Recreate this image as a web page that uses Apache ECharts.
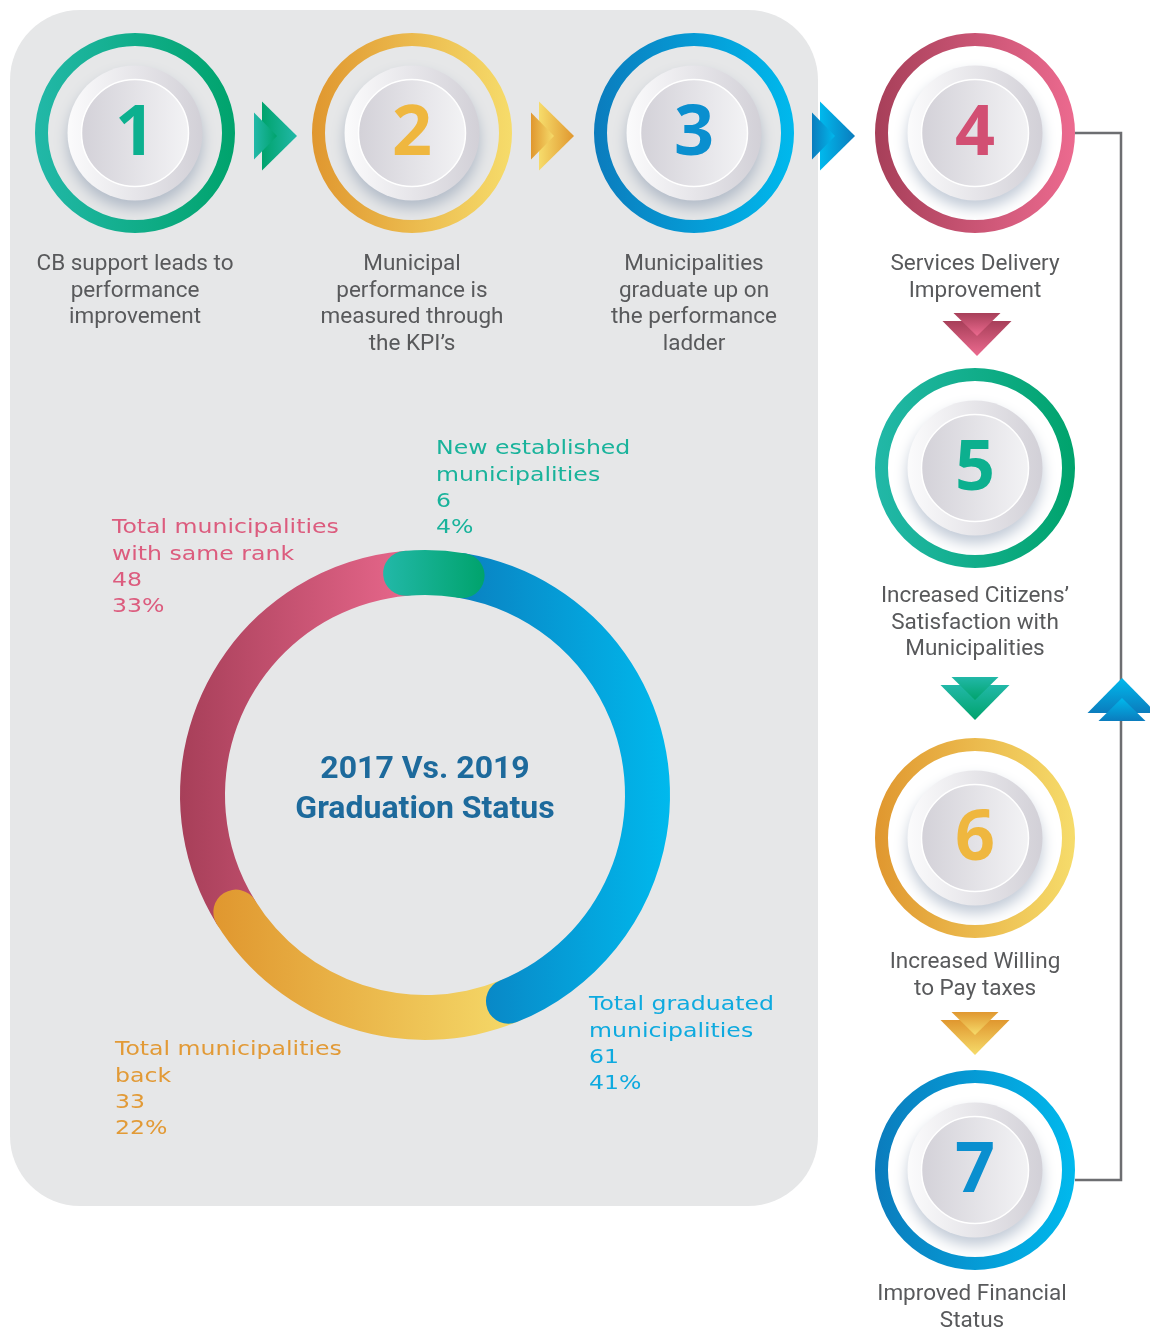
<!DOCTYPE html>
<html><head><meta charset="utf-8">
<script src="https://cdn.jsdelivr.net/npm/echarts@6/dist/echarts.min.js"></script>
<style>html,body{margin:0;padding:0;background:#fff}#c{width:1150px;height:1329px}</style>
</head><body><div id="c"></div>
<script>
// ---- data ----
const categories = ['New established\nmunicipalities', 'Total graduated\nmunicipalities', 'Total municipalities\nback', 'Total municipalities\nwith same rank'];
const values = [6, 61, 33, 48];
const percentLabels = ['4%', '41%', '22%', '33%'];
const centerTitle = ['2017 Vs. 2019', 'Graduation Status'];
const stepNumbers = ['1', '2', '3', '4', '5', '6', '7'];
const stepTexts = [
  'CB support leads to\nperformance\nimprovement',
  'Municipal\nperformance is\nmeasured through\nthe KPI\u2019s',
  'Municipalities\ngraduate up on\nthe performance\nladder',
  'Services Delivery\nImprovement',
  'Increased Citizens\u2019\nSatisfaction with\nMunicipalities',
  'Increased Willing\nto Pay taxes',
  'Improved Financial\nStatus'
];

// ---- styles / layout ----
const palette = {
  green: ['#22b8a8', '#00a36c', '#0cb08f', '#19b39b'],
  yellow: ['#e0972f', '#f6dc6b', '#efb73f', '#e29a36'],
  blue: ['#0b7cbd', '#00b9ed', '#0a8fcf', '#0eaadf'],
  pink: ['#a73f59', '#ec6a8f', '#d24f73', '#dc5c7e']
};
const segColors = ['green', 'blue', 'yellow', 'pink'];
const segZ = [5, 4, 3, 2];
const labelPos = [[436, 436], [589, 992], [115, 1037], [112, 515]];
const stepColor = ['green', 'yellow', 'blue', 'pink', 'green', 'yellow', 'blue'];
const stepPos = [[135, 133], [412, 133], [694, 133], [975, 133], [975, 468], [975, 838], [975, 1170]];
const textPos = [[135, 250], [412, 250], [694, 250], [975, 250], [975, 582], [975, 948], [972, 1280]];

function lin(c0, c1, vertical) {
  return { type: 'linear', x: 0, y: 0, x2: vertical ? 0 : 1, y2: vertical ? 1 : 0,
    colorStops: [{ offset: 0, color: c0 }, { offset: 1, color: c1 }] };
}

const graphics = [];
// panel
graphics.push({ type: 'rect', z: 0, shape: { x: 10, y: 10, width: 808, height: 1196, r: 70 },
  style: { fill: '#e6e7e8' } });
// connector line
graphics.push({ type: 'polyline', z: 1, shape: { points: [[1075, 133], [1121, 133], [1121, 1180], [1075, 1180]] },
  style: { stroke: '#6d6e71', lineWidth: 2.5, fill: null } });

// step circles
stepPos.forEach(function (p, i) {
  const col = palette[stepColor[i]];
  graphics.push({ type: 'circle', z: 1, shape: { cx: p[0], cy: p[1], r: 93.5 },
    style: { fill: null, stroke: lin(col[0], col[1]), lineWidth: 13 } });
  graphics.push({ type: 'circle', z: 1, shape: { cx: p[0], cy: p[1], r: 67.5 },
    style: { fill: lin('#fbfbfc', '#d2d0d7'), shadowBlur: 14, shadowOffsetY: 8, shadowColor: 'rgba(80,105,140,0.35)' } });
  graphics.push({ type: 'circle', z: 1, shape: { cx: p[0], cy: p[1], r: 53.5 },
    style: { fill: lin('#d3d1d8', '#f3f3f5'), stroke: '#ffffff', lineWidth: 1.5 } });
  graphics.push({ type: 'text', z: 2, x: p[0], y: p[1] + 2,
    style: { text: stepNumbers[i], fill: col[2], font: 'bold 70px "Open Sans"', align: 'center', verticalAlign: 'middle' } });
  graphics.push({ type: 'text', z: 2, x: textPos[i][0], y: textPos[i][1] + 1,
    style: { text: stepTexts[i], fill: '#58595b', font: '22.5px Roboto', lineHeight: 26.7, align: 'center', verticalAlign: 'top' } });
});

// arrows
function tri(points, c0, c1, vertical) {
  return { type: 'polygon', z: 1, shape: { points: points }, style: { fill: lin(c0, c1, vertical) } };
}
[[254, 'green'], [531, 'yellow'], [812, 'blue']].forEach(function (a) {
  const x0 = a[0], yc = 136, col = palette[a[1]];
  graphics.push(tri([[x0 + 8, yc - 34.5], [x0 + 43, yc], [x0 + 8, yc + 34.5]], col[1], col[0]));
  graphics.push(tri([[x0, yc - 23.5], [x0 + 23, yc], [x0, yc + 23.5]], col[0], col[1]));
});
[[977, 313, 'pink'], [975, 677, 'green'], [975, 1012, 'yellow']].forEach(function (a) {
  const xc = a[0], y0 = a[1], col = palette[a[2]];
  graphics.push(tri([[xc - 34.5, y0 + 8], [xc + 34.5, y0 + 8], [xc, y0 + 43]], col[0], col[1], true));
  graphics.push(tri([[xc - 23.5, y0], [xc + 23.5, y0], [xc, y0 + 23]], col[0], col[1], true));
});
(function () {
  const xc = 1122, yb = 721, col = palette.blue;
  graphics.push(tri([[xc - 34.5, yb - 8], [xc + 34.5, yb - 8], [xc, yb - 43]], col[1], col[0], true));
  graphics.push(tri([[xc - 23.5, yb], [xc + 23.5, yb], [xc, yb - 23]], col[1], col[0], true));
})();

// donut labels
categories.forEach(function (c, i) {
  graphics.push({ type: 'text', z: 10, x: labelPos[i][0], y: labelPos[i][1], scaleX: 1.18,
    style: { text: c + '\n' + values[i] + '\n' + percentLabels[i], fill: palette[segColors[i]][3],
      font: '20px "DejaVu Sans"', lineHeight: 26.3, align: 'left', verticalAlign: 'top' } });
});
// center title
graphics.push({ type: 'text', z: 10, x: 425, y: 790,
  style: { text: centerTitle.join('\n'), fill: '#1d6a9c', font: 'bold 32px Roboto', lineHeight: 40,
    align: 'center', verticalAlign: 'middle' } });

const total = values.reduce(function (a, b) { return a + b; }, 0);
const series = values.map(function (v, i) {
  const col = palette[segColors[i]];
  return {
    type: 'bar', coordinateSystem: 'polar', stack: 'ring', roundCap: true, z: segZ[i],
    barCategoryGap: '0%', data: [v], name: categories[i].replace('\n', ' '),
    itemStyle: { color: lin(col[0], col[1]) }, silent: true
  };
});

const chart = echarts.init(document.getElementById('c'));
chart.setOption({
  animation: false,
  backgroundColor: '#ffffff',
  polar: { center: [425, 795], radius: [200, 245] },
  angleAxis: { type: 'value', min: 0, max: total, startAngle: 95, clockwise: true, show: false },
  radiusAxis: { type: 'category', data: ['ring'], show: false },
  series: series,
  graphic: { elements: graphics }
});
</script></body></html>
